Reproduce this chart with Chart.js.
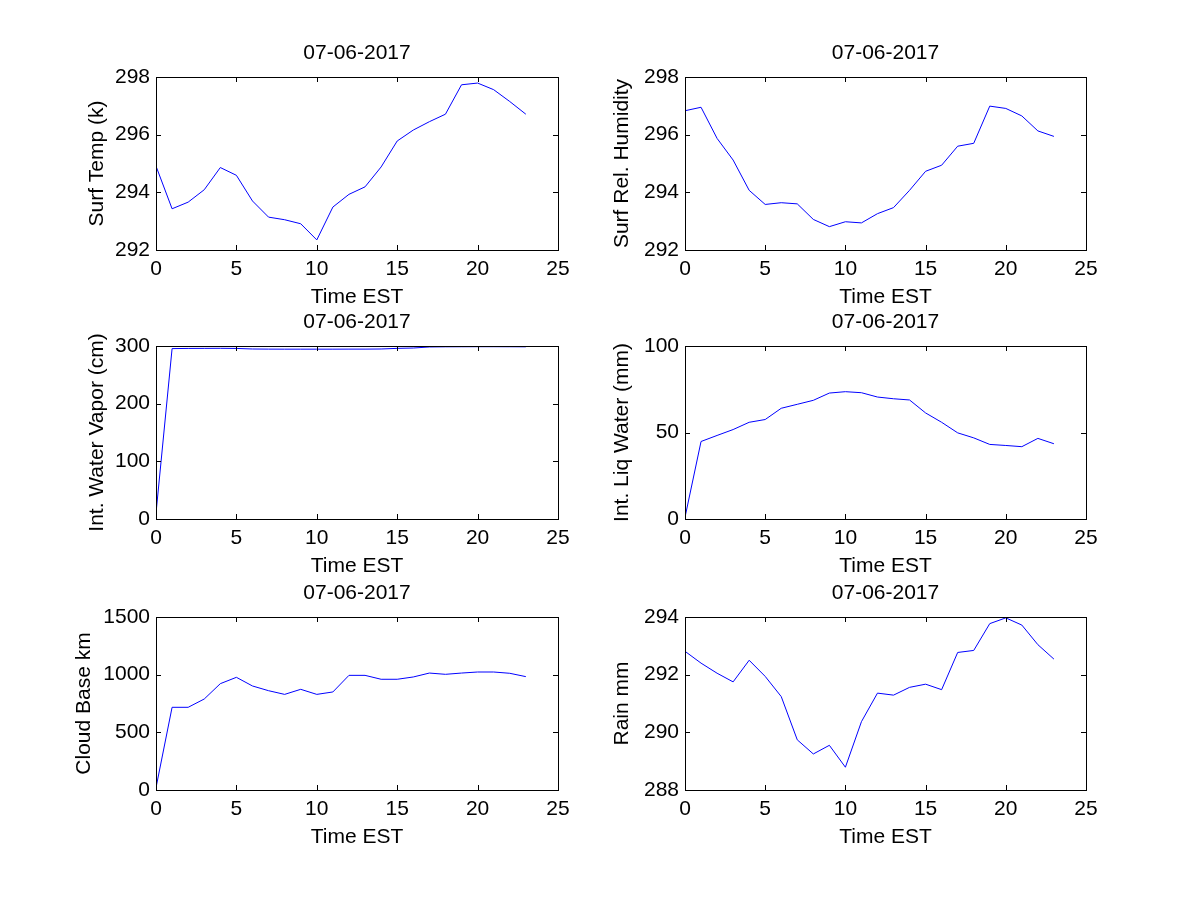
<!DOCTYPE html>
<html>
<head>
<meta charset="utf-8">
<script src="https://cdn.jsdelivr.net/npm/chart.js@4/dist/chart.umd.min.js"></script>
<style>
  body { margin: 0; background: #fff; width: 1200px; height: 900px; position: relative; overflow: hidden; }
  canvas { position: absolute; }
</style>
</head>
<body>
<canvas id="c1"></canvas>
<canvas id="c2"></canvas>
<canvas id="c3"></canvas>
<canvas id="c4"></canvas>
<canvas id="c5"></canvas>
<canvas id="c6"></canvas>
<script>
// data, one value per hour
const hours = [0, 1, 2, 3, 4, 5, 6, 7, 8, 9, 10, 11, 12, 13, 14, 15, 16, 17, 18, 19, 20, 21, 22, 23];
const surfTemp = [294.91, 293.43, 293.66, 294.09, 294.86, 294.59, 293.70, 293.14, 293.05, 292.91, 292.35, 293.49,
                  293.93, 294.19, 294.88, 295.78, 296.16, 296.45, 296.71, 297.73, 297.79, 297.56, 297.15, 296.71];
const relHumidity = [296.83, 296.95, 295.87, 295.12, 294.07, 293.58, 293.64, 293.60, 293.06, 292.81, 292.98, 292.94,
                     293.26, 293.47, 294.07, 294.73, 294.94, 295.60, 295.70, 296.99, 296.91, 296.65, 296.13, 295.94];
const waterVapor = [10, 295.5, 295.8, 295.9, 296.0, 295.8, 294.8, 294.6, 294.5, 294.5, 294.5, 294.5,
                    294.6, 294.6, 294.8, 295.9, 296.5, 298.3, 298.6, 298.7, 298.8, 298.8, 298.7, 298.6];
const liqWater = [1, 44.8, 48.3, 51.7, 55.9, 57.5, 64.0, 66.3, 68.6, 72.8, 73.6, 73.0,
                  70.5, 69.5, 68.8, 61.3, 55.9, 49.8, 46.9, 43.1, 42.5, 41.8, 46.6, 43.5];
const cloudBase = [20, 717, 717, 789, 922, 977, 902, 861, 829, 873, 829, 850,
                   994, 994, 960, 960, 980, 1014, 1003, 1014, 1023, 1023, 1012, 983];
const rain = [292.81, 292.40, 292.05, 291.75, 292.50, 291.94, 291.24, 289.74, 289.25, 289.55, 288.79, 290.37,
              291.36, 291.29, 291.56, 291.67, 291.48, 292.77, 292.84, 293.77, 293.97, 293.72, 293.04, 292.54];

const dateLabel = '07-06-2017';
const xLabel = 'Time EST';

Chart.defaults.font.family = "'Liberation Sans', Arial, sans-serif";
Chart.defaults.font.size = 21;
Chart.defaults.color = '#000';

const PAD_L = 90, PAD_T = 36, PAD_B = 60, PLOT_H = 173;

// matlab style box with ticks pointing inwards
const boxPlugin = {
  id: 'box',
  afterDraw(chart) {
    const { ctx, chartArea: a, scales } = chart;
    const t = 5;
    ctx.save();
    ctx.strokeStyle = '#000';
    ctx.lineWidth = 1;
    ctx.beginPath();
    scales.x.ticks.forEach(tk => {
      const px = Math.round(scales.x.getPixelForValue(tk.value)) + 0.5;
      ctx.moveTo(px, a.bottom); ctx.lineTo(px, a.bottom - t);
      ctx.moveTo(px, a.top); ctx.lineTo(px, a.top + t);
    });
    scales.y.ticks.forEach(tk => {
      const py = Math.round(scales.y.getPixelForValue(tk.value)) + 0.5;
      ctx.moveTo(a.left, py); ctx.lineTo(a.left + t, py);
      ctx.moveTo(a.right, py); ctx.lineTo(a.right - t, py);
    });
    ctx.stroke();
    ctx.strokeRect(Math.round(a.left) + 0.5, Math.round(a.top) + 0.5,
                   Math.round(a.right - a.left), Math.round(a.bottom - a.top));
    ctx.restore();
  }
};

function makePlot(id, plotLeft, plotTop, plotW, values, yLabel, yMin, yMax, yStep, titlePad) {
  const cv = document.getElementById(id);
  cv.width = plotW + 2 * PAD_L;
  cv.height = PAD_T + PLOT_H + PAD_B;
  cv.style.left = (plotLeft - PAD_L) + 'px';
  cv.style.top = (plotTop - PAD_T) + 'px';

  new Chart(cv, {
    type: 'line',
    data: {
      datasets: [{
        data: hours.map((h, i) => ({ x: h, y: values[i] })),
        borderColor: '#0000ff',
        borderWidth: 1,
        pointRadius: 0,
        tension: 0,
        fill: false
      }]
    },
    options: {
      responsive: false,
      animation: false,
      events: [],
      layout: { padding: 0 },
      plugins: {
        legend: { display: false },
        tooltip: { enabled: false },
        title: {
          display: true,
          text: dateLabel,
          color: '#000',
          font: { size: 21, weight: 'normal' },
          padding: { top: 0, bottom: 10.8 }
        }
      },
      scales: {
        x: {
          type: 'linear',
          min: 0, max: 25,
          ticks: { stepSize: 5, padding: 7, maxRotation: 0, color: '#000' },
          grid: { display: false, drawTicks: false },
          border: { display: false },
          title: { display: true, text: xLabel, color: '#000', padding: { top: 2.4, bottom: 0 } },
          afterFit(s) { s.height = PAD_B; }
        },
        y: {
          min: yMin, max: yMax,
          ticks: { stepSize: yStep, padding: 6, color: '#000', callback: v => String(v) },
          grid: { display: false, drawTicks: false },
          border: { display: false },
          title: { display: true, text: yLabel, color: '#000', padding: { top: titlePad, bottom: 0 } },
          afterFit(s) { s.width = PAD_L; }
        },
        // empty right axis so the title sits over the middle of the plot
        yRight: {
          position: 'right',
          ticks: { display: false },
          grid: { display: false, drawTicks: false },
          border: { display: false },
          afterFit(s) { s.width = PAD_L; }
        }
      }
    },
    plugins: [boxPlugin]
  });
}

makePlot('c1', 156, 77, 402, surfTemp, 'Surf Temp (k)', 292, 298, 2, 18.4);
makePlot('c2', 685, 77, 401, relHumidity, 'Surf Rel. Humidity', 292, 298, 2, 14.4);
makePlot('c3', 156, 346, 402, waterVapor, 'Int. Water Vapor (cm)', 0, 300, 100, 18.4);
makePlot('c4', 685, 346, 401, liqWater, 'Int. Liq Water (mm)', 0, 100, 50, 14.4);
makePlot('c5', 156, 617, 402, cloudBase, 'Cloud Base km', 0, 1500, 500, 5.4);
makePlot('c6', 685, 617, 401, rain, 'Rain mm', 288, 294, 2, 14.4);
</script>
</body>
</html>
